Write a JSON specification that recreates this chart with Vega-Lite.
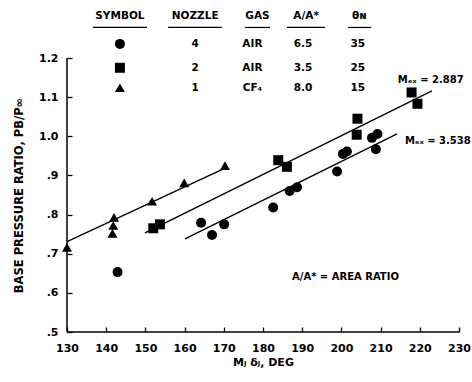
{
  "$schema": "https://vega.github.io/schema/vega-lite/v6.json",
  "width": 392,
  "height": 274,
  "autosize": {"type": "none"},
  "padding": {"left": 67, "top": 58, "right": 13, "bottom": 50},
  "background": "white",
  "config": {
    "view": {"stroke": null},
    "font": "DejaVu Sans",
    "axis": {
      "domain": false, "tickColor": "black", "tickWidth": 1.3, "tickSize": 5,
      "labelColor": "black", "labelFont": "DejaVu Sans", "labelFontWeight": "bold", "labelFontSize": 11,
      "titleColor": "black", "titleFont": "DejaVu Sans", "titleFontWeight": "bold", "titleFontSize": 11,
      "grid": false, "labelOverlap": false, "labelBound": false, "labelFlush": false
    }
  },
  "datasets": {
    "pts": [
      {"sym": "triangle", "x": 130.0, "y": 0.716},
      {"sym": "triangle", "x": 142.0, "y": 0.793},
      {"sym": "triangle", "x": 141.8, "y": 0.772},
      {"sym": "triangle", "x": 141.6, "y": 0.752},
      {"sym": "triangle", "x": 151.7, "y": 0.834},
      {"sym": "triangle", "x": 159.9, "y": 0.881},
      {"sym": "triangle", "x": 170.3, "y": 0.925},
      {"sym": "square", "x": 152.0, "y": 0.765},
      {"sym": "square", "x": 153.7, "y": 0.775},
      {"sym": "square", "x": 183.9, "y": 0.939},
      {"sym": "square", "x": 186.1, "y": 0.922},
      {"sym": "square", "x": 204.1, "y": 1.045},
      {"sym": "square", "x": 203.9, "y": 1.004},
      {"sym": "square", "x": 217.9, "y": 1.112},
      {"sym": "square", "x": 219.4, "y": 1.083},
      {"sym": "circle", "x": 142.9, "y": 0.653},
      {"sym": "circle", "x": 164.2, "y": 0.779},
      {"sym": "circle", "x": 167.0, "y": 0.748},
      {"sym": "circle", "x": 170.1, "y": 0.775},
      {"sym": "circle", "x": 182.6, "y": 0.818},
      {"sym": "circle", "x": 186.8, "y": 0.860},
      {"sym": "circle", "x": 188.7, "y": 0.870},
      {"sym": "circle", "x": 198.9, "y": 0.910},
      {"sym": "circle", "x": 200.4, "y": 0.955},
      {"sym": "circle", "x": 201.4, "y": 0.961},
      {"sym": "circle", "x": 207.8, "y": 0.996},
      {"sym": "circle", "x": 209.2, "y": 1.006},
      {"sym": "circle", "x": 208.8, "y": 0.967}
    ],
    "fits": [
      {"g": "triangle", "x": 130.0, "y": 0.731},
      {"g": "triangle", "x": 170.6, "y": 0.920},
      {"g": "square", "x": 149.9, "y": 0.753},
      {"g": "square", "x": 223.1, "y": 1.116},
      {"g": "circle", "x": 160.1, "y": 0.738},
      {"g": "circle", "x": 214.2, "y": 1.006}
    ],
    "xaxisline": [{"x": 130, "x2": 230, "y": 0.5}],
    "yaxisline": [{"x": 130, "y": 0.5, "y2": 1.2}],
    "legsym": [
      {"sym": "circle", "x": 143.5, "y": 1.236},
      {"sym": "square", "x": 143.5, "y": 1.175},
      {"sym": "triangle", "x": 143.5, "y": 1.124}
    ],
    "tabletext": [
      {"x": 143.5, "y": 1.307, "t": "SYMBOL"},
      {"x": 162.7, "y": 1.307, "t": "NOZZLE"},
      {"x": 178.6, "y": 1.307, "t": "GAS"},
      {"x": 191.0, "y": 1.307, "t": "A/A*"},
      {"x": 204.6, "y": 1.307, "t": "θɴ"},
      {"x": 162.7, "y": 1.236, "t": "4"},
      {"x": 177.3, "y": 1.236, "t": "AIR"},
      {"x": 190.2, "y": 1.236, "t": "6.5"},
      {"x": 204.2, "y": 1.236, "t": "35"},
      {"x": 162.7, "y": 1.175, "t": "2"},
      {"x": 177.3, "y": 1.175, "t": "AIR"},
      {"x": 190.2, "y": 1.175, "t": "3.5"},
      {"x": 204.2, "y": 1.175, "t": "25"},
      {"x": 162.7, "y": 1.124, "t": "1"},
      {"x": 177.3, "y": 1.124, "t": "CF₄"},
      {"x": 190.2, "y": 1.124, "t": "8.0"},
      {"x": 204.2, "y": 1.124, "t": "15"}
    ],
    "underlines": [
      {"x": 136.6, "x2": 150.4, "y": 1.278},
      {"x": 155.8, "x2": 169.5, "y": 1.278},
      {"x": 175.4, "x2": 181.8, "y": 1.278},
      {"x": 186.1, "x2": 195.8, "y": 1.278},
      {"x": 201.7, "x2": 207.6, "y": 1.278}
    ],
    "notes": [
      {"x": 214.4, "y": 1.144, "t": "Mₑₓ = 2.887"},
      {"x": 216.2, "y": 0.989, "t": "Mₑₓ = 3.538"},
      {"x": 187.4, "y": 0.640, "t": "A/A* = AREA RATIO"}
    ]
  },
  "encoding": {
    "x": {"field": "x", "type": "quantitative",
      "scale": {"domain": [130, 230], "nice": false, "zero": false},
      "axis": {"values": [130, 140, 150, 160, 170, 180, 190, 200, 210, 220, 230], "offset": -5, "labelPadding": 10, "title": "Mⱼ δⱼ, DEG", "titlePadding": 3}},
    "y": {"field": "y", "type": "quantitative",
      "scale": {"domain": [0.5, 1.2], "nice": false, "zero": false},
      "axis": {"values": [0.5, 0.6, 0.7, 0.8, 0.9, 1.0, 1.1, 1.2], "offset": -5, "labelPadding": 9,
        "labelExpr": "datum.value < 1 ? replace(format(datum.value, '.1f'), '0.', '.') : format(datum.value, '.1f')",
        "title": "BASE PRESSURE RATIO, PB/P∞", "titlePadding": 14, "titleFontSize": 11.5}}
  },
  "layer": [
    {
      "data": {"name": "xaxisline"},
      "mark": {"type": "rule", "color": "black", "strokeWidth": 1.5},
      "encoding": {"x2": {"field": "x2"}}
    },
    {
      "data": {"name": "yaxisline"},
      "mark": {"type": "rule", "color": "black", "strokeWidth": 1.5},
      "encoding": {"y2": {"field": "y2"}}
    },
    {
      "data": {"name": "fits"},
      "mark": {"type": "line", "color": "black", "strokeWidth": 1.4},
      "encoding": {
        "detail": {"field": "g"}
      }
    },
    {
      "data": {"name": "pts"},
      "mark": {"type": "point", "filled": true, "color": "black", "opacity": 1, "size": 100},
      "encoding": {
        "shape": {"field": "sym", "type": "nominal",
          "scale": {"domain": ["circle", "square", "triangle"], "range": ["circle", "square", "triangle-up"]}, "legend": null}
      }
    },
    {
      "data": {"name": "legsym"},
      "mark": {"type": "point", "filled": true, "color": "black", "opacity": 1, "size": 100},
      "encoding": {
        "shape": {"field": "sym", "type": "nominal", "legend": null}
      }
    },
    {
      "data": {"name": "tabletext"},
      "mark": {"type": "text", "color": "black", "fontSize": 10.5, "fontWeight": "bold", "align": "center", "baseline": "middle"},
      "encoding": {
        "text": {"field": "t"}
      }
    },
    {
      "data": {"name": "underlines"},
      "mark": {"type": "rule", "color": "black", "strokeWidth": 1.2},
      "encoding": {
        "x2": {"field": "x2"}
      }
    },
    {
      "data": {"name": "notes"},
      "mark": {"type": "text", "color": "black", "fontSize": 10, "fontWeight": "bold", "align": "left", "baseline": "middle"},
      "encoding": {
        "text": {"field": "t"}
      }
    }
  ]
}
